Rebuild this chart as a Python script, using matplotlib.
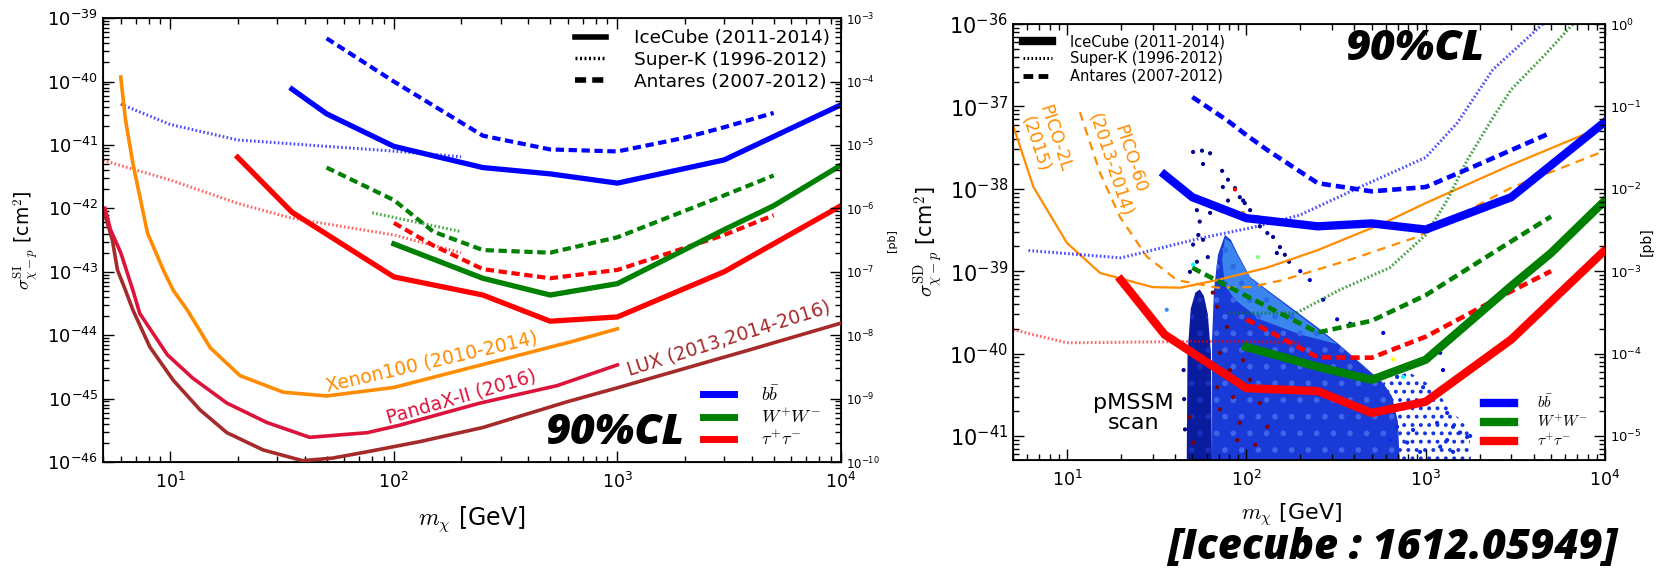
import matplotlib
matplotlib.use("Agg")
import matplotlib.pyplot as plt
from matplotlib.lines import Line2D

plt.rcParams["font.family"] = ["DejaVu Sans"]
plt.rcParams["mathtext.fontset"] = "cm"
plt.rcParams["axes.unicode_minus"] = False
plt.rcParams["xtick.direction"] = "in"
plt.rcParams["ytick.direction"] = "in"
plt.rcParams["hatch.linewidth"] = 1.6

# ---------------- spin-independent limits [cm^2] ----------------
m_ic_bb_si = [35, 50, 100, 250, 500, 1000, 3000, 10000]
s_ic_bb_si = [7.6e-41, 3.1e-41, 9.5e-42, 4.4e-42, 3.5e-42, 2.5e-42, 5.8e-42, 4.3e-41]
m_ic_ww_si = [100, 250, 500, 1000, 3000, 5000, 10000]
s_ic_ww_si = [2.75e-43, 7.9e-44, 4.3e-44, 6.5e-44, 4.6e-43, 1.1e-42, 4.8e-42]
m_ic_tt_si = [20, 35, 100, 250, 500, 1000, 3000, 10000]
s_ic_tt_si = [6.4e-42, 8.7e-43, 8.3e-44, 4.3e-44, 1.66e-44, 1.94e-44, 1.0e-43, 1.1e-42]

m_an_bb_si = [50, 100, 250, 500, 1000, 2000, 3000, 5000]
s_an_bb_si = [4.8e-40, 1.0e-40, 1.4e-41, 8.5e-42, 7.9e-42, 1.3e-41, 1.9e-41, 3.2e-41]
m_an_ww_si = [50, 100, 150, 250, 500, 1000, 3000, 5000]
s_an_ww_si = [4.4e-42, 1.35e-42, 4.3e-43, 2.2e-43, 2.0e-43, 3.5e-43, 1.6e-42, 3.3e-42]
m_an_tt_si = [100, 150, 250, 500, 1000, 3000, 5000]
s_an_tt_si = [5.9e-43, 2.6e-43, 1.1e-43, 7.9e-44, 1.07e-43, 3.8e-43, 7.8e-43]

m_sk_bb_si = [6, 10, 20, 50, 100, 200]
s_sk_bb_si = [4.4e-41, 2.1e-41, 1.2e-41, 9.5e-42, 8.0e-42, 6.5e-42]
m_sk_ww_si = [80, 100, 200]
s_sk_ww_si = [8.5e-43, 7.2e-43, 4.3e-43]
m_sk_tt_si = [5, 10, 20, 35, 100, 200]
s_sk_tt_si = [5.7e-42, 2.8e-42, 1.2e-42, 7.0e-43, 3.8e-43, 2.0e-43]

m_xenon = [6.0, 6.3, 6.8, 7.9, 9.3, 10.3, 11.9, 15.1, 20.5, 32, 50, 100, 614, 1000]
s_xenon = [1.18e-40, 2.5e-41, 5.1e-42, 4.1e-43, 1.07e-43, 5.1e-44, 2.5e-44, 6.3e-45,
           2.3e-45, 1.26e-45, 1.1e-45, 1.5e-45, 7.8e-45, 1.26e-44]
m_pandax = [5.1, 5.4, 6.0, 6.8, 7.3, 9.7, 12.6, 17.9, 27, 42, 76, 106, 243, 537, 1000]
s_pandax = [1.0e-42, 4.6e-43, 2.0e-43, 5.1e-44, 2.2e-44, 4.9e-45, 2.1e-45, 8.5e-46,
            4.2e-46, 2.45e-46, 2.9e-46, 3.8e-46, 8.5e-46, 1.6e-45, 3.4e-45]
m_lux = [5.0, 5.5, 5.8, 6.3, 6.8, 8.1, 10.3, 13.6, 17.9, 26, 39, 53, 76, 131, 250, 595,
         1000, 3920, 10000]
s_lux = [1.0e-42, 3.2e-43, 1.07e-43, 5.1e-44, 2.5e-44, 6.5e-45, 1.95e-45, 6.6e-46, 2.9e-46,
         1.55e-46, 1.05e-46, 1.15e-46, 1.45e-46, 2.1e-46, 3.5e-46, 8.9e-46, 1.48e-45,
         5.9e-45, 1.55e-44]

# ---------------- spin-dependent limits [cm^2] ----------------
m_ic_bb_sd = [35, 50, 100, 250, 500, 1000, 3000, 10000]
s_ic_bb_sd = [1.48e-38, 7.9e-39, 4.4e-39, 3.5e-39, 3.8e-39, 3.2e-39, 7.9e-39, 6.5e-38]
m_ic_ww_sd = [100, 250, 500, 1000, 3000, 5000, 10000]
s_ic_ww_sd = [1.2e-40, 6.9e-41, 4.8e-41, 8.4e-41, 6.6e-40, 1.66e-39, 7.2e-39]
m_ic_tt_sd = [20, 35, 100, 250, 500, 1000, 3000, 10000]
s_ic_tt_sd = [7.8e-40, 1.7e-40, 3.8e-41, 3.5e-41, 1.9e-41, 2.6e-41, 1.48e-40, 1.8e-39]

m_an_bb_sd = [50, 78, 100, 131, 250, 500, 1000, 2000, 5000]
s_an_bb_sd = [1.3e-37, 6.8e-38, 4.5e-38, 2.95e-38, 1.17e-38, 9.3e-39, 1.05e-38, 2.0e-38, 4.8e-38]
m_an_ww_sd = [50, 100, 250, 500, 1000, 3000, 5000]
s_an_ww_sd = [1.1e-39, 5.0e-40, 1.8e-40, 2.5e-40, 5.1e-40, 2.3e-39, 4.6e-39]
m_an_tt_sd = [100, 250, 500, 1000, 3000, 5000]
s_an_tt_sd = [2.6e-40, 9.0e-41, 8.9e-41, 1.6e-40, 5.7e-40, 1.0e-39]

m_sk_bb_sd = [6.1, 20, 55, 109, 199, 431, 1000, 1500, 2370, 4500]
s_sk_bb_sd = [1.78e-39, 1.45e-39, 2.5e-39, 3.4e-39, 4.8e-39, 1.05e-38, 2.4e-38, 6.3e-38,
              2.8e-37, 1.0e-36]
m_sk_ww_sd = [80, 190, 330, 630, 1000, 1315, 1700, 2380, 3000, 4750, 6620]
s_sk_ww_sd = [3.1e-40, 3.1e-40, 5.9e-40, 1.1e-39, 2.75e-39, 7.2e-39, 2.2e-38, 7.4e-38,
              1.6e-37, 4.5e-37, 1.0e-36]
m_sk_tt_sd = [5, 10, 50, 100, 200]
s_sk_tt_sd = [1.95e-40, 1.35e-40, 1.4e-40, 1.4e-40, 1.35e-40]

m_pico2l = [5, 6.5, 10, 15.3, 30, 43, 69, 130, 250, 578, 1000, 3000, 8260]
s_pico2l = [5.9e-38, 1.05e-38, 2.2e-39, 9.5e-40, 6.4e-40, 6.3e-40, 7.8e-40, 1.1e-39,
            1.8e-39, 3.8e-39, 6.7e-39, 1.95e-38, 4.9e-38]
m_pico60 = [11.8, 15.3, 19.8, 27.9, 41, 69, 105, 160, 379, 895, 3000, 10000]
s_pico60 = [8.5e-38, 1.55e-38, 4.5e-39, 1.5e-39, 7.8e-40, 6.3e-40, 6.4e-40, 7.8e-40,
            1.38e-39, 2.6e-39, 1.03e-38, 2.9e-38]

# ---------------- pMSSM scan ----------------
# outlines of the populated regions of the scan
funnel_m = [46.5, 47, 49, 52, 55, 58, 61, 63.5, 64.4]
funnel_s = [4e-42, 1e-40, 3.5e-40, 5.5e-40, 6e-40, 5e-40, 3e-40, 1e-40, 4e-42]
core_m = [64.4, 64.4, 66, 69.5, 76, 82, 89, 105, 131, 175, 248, 321, 415, 580, 650, 700, 720]
core_s = [4e-42, 1.46e-40, 5.9e-40, 1.58e-39, 2.75e-39, 2.4e-39, 1.66e-39, 8.5e-40, 5.9e-40,
          3.7e-40, 2.1e-40, 1.35e-40, 8.3e-41, 4.4e-41, 3.0e-41, 1.5e-41, 4e-42]
light_m = [73.3, 76, 82, 89, 105, 131, 175, 248, 321, 200, 119, 86.5, 76]
light_s = [1.38e-39, 2.5e-39, 2.24e-39, 1.58e-39, 8.3e-40, 5.7e-40, 3.55e-40, 2.0e-40,
           1.3e-40, 1.7e-40, 2.6e-40, 4.5e-40, 6.8e-40]
sparse_m = [580, 800, 1100, 1400, 1750, 1800, 720]
sparse_s = [4.4e-41, 6e-41, 4e-41, 2e-41, 1.2e-41, 4e-42, 4e-42]
# isolated model points
pt_m = [50.5, 56.6, 62.8, 57.4, 73.3, 79, 74, 86.5, 92, 79, 98, 105, 115, 53, 55, 62.8, 54,
        50.5, 57.4, 61, 53, 48.5, 131, 141, 154, 164, 173, 148, 119, 96,
        226, 268, 321, 379, 580, 200, 1205, 1250, 931,
        693, 968, 1100, 1318, 1158, 1422, 1556, 1318, 1702, 1205, 1422, 851, 789, 931, 693,
        634, 1770, 45, 45.5, 44.7, 36,
        96, 86.5, 50.5, 116, 658, 748,
        48.5, 50.5, 68.7, 71.3, 84.4, 92, 105, 119, 81, 96, 71.3, 131, 65, 68.7, 78, 89, 112]
pt_s = [2.8e-38, 2.9e-38, 2.7e-38, 2.0e-38, 1.65e-38, 1.29e-38, 1.05e-38, 1.02e-38, 7.9e-39,
        7.2e-39, 6.7e-39, 5.5e-39, 4.5e-39, 5.5e-39, 4.0e-39, 5.1e-39, 2.75e-39, 2.1e-39,
        2.4e-39, 1.48e-39, 1.3e-39, 9.8e-40, 2.9e-39, 2.6e-39, 1.96e-39, 1.58e-39, 1.3e-39,
        1.66e-39, 3.5e-39, 7.2e-39,
        7.8e-40, 4.5e-40, 2.6e-40, 2.3e-40, 1.78e-40, 1.0e-39, 1.02e-40, 6.3e-41, 8.3e-41,
        5.2e-41, 3.9e-41, 2.95e-41, 1.9e-41, 1.44e-41, 1.29e-41, 1.1e-41, 8.9e-42, 9.7e-42,
        7.4e-42, 6.4e-42, 1.18e-41, 8.3e-42, 6.4e-42, 1.29e-41, 8.9e-42, 1.0e-41,
        2.8e-41, 1.2e-41, 6.3e-41, 3.4e-40,
        5.1e-39, 9.8e-39, 1.2e-39, 1.48e-39, 8.5e-41, 5.2e-41,
        1.7e-41, 8.3e-42, 3.9e-41, 2.1e-41, 2.95e-41, 1.44e-41, 4.8e-41, 2.5e-41, 6.3e-41,
        8.3e-41, 1.02e-40, 1.29e-41, 5.5e-40, 3.7e-40, 2.1e-40, 8.9e-42, 7.8e-42]
pt_c = (["#00008b"] * 30 + ["#0000cd"] * 9 + ["#0a2ae6"] * 17 + ["#00008b"] * 3
        + ["#3a8cff"] + ["darkorange", "red", "cyan", "#80ff80", "yellow", "cyan"]
        + ["#800000"] * 17)

BLUE, GREEN, RED = "#0000ff", "#008000", "#ff0000"
ORANGE, CRIMSON, BROWN = "#ff8c00", "#dc143c", "#a52a2a"
DASH = (0, (2.0, 1.1))
DOT = (0, (0.55, 0.75))

fig = plt.figure(figsize=(16.62, 5.72), dpi=100)
axL = fig.add_axes([0.062, 0.1923, 0.444, 0.776])
axR = fig.add_axes([0.6095, 0.1958, 0.3562, 0.7622])


def style_axes(ax, ylim, pb_lim, ytick_size, pb_size):
    ax.set_xscale("log")
    ax.set_yscale("log")
    ax.set_xlim(5, 1e4)
    ax.set_ylim(*ylim)
    ax.tick_params(which="both", top=True, right=False, width=1)
    ax.tick_params(which="major", length=8)
    ax.tick_params(which="minor", length=4)
    ax.tick_params(axis="y", labelsize=ytick_size)
    ax.tick_params(axis="x", labelsize=12.5, pad=7)
    for sp in ax.spines.values():
        sp.set_linewidth(1.3)
    tw = ax.twinx()
    tw.set_yscale("log")
    tw.set_ylim(*pb_lim)
    tw.tick_params(which="both", direction="in", width=1, labelsize=pb_size)
    tw.tick_params(which="major", length=8)
    tw.tick_params(which="minor", length=4)
    return tw


twL = style_axes(axL, (1e-46, 1e-39), (1e-10, 1e-3), 13, 8.5)
twR = style_axes(axR, (5.1e-42, 1e-36), (5.1e-6, 1.0), 15, 9.5)
twL.text(1.069, 0.5, "[pb]", transform=axL.transAxes, rotation=90, fontsize=8,
         va="center", ha="center")
twR.text(1.07, 0.5, "[pb]", transform=axR.transAxes, rotation=90, fontsize=10,
         va="center", ha="center")

# ---------------- left panel: spin independent ----------------
axL.plot(m_lux, s_lux, color=BROWN, lw=2.6, zorder=3)
axL.plot(m_pandax, s_pandax, color=CRIMSON, lw=2.6, zorder=3)
axL.plot(m_xenon, s_xenon, color=ORANGE, lw=2.6, zorder=3)

axL.plot(m_sk_bb_si, s_sk_bb_si, color=BLUE, lw=2.2, ls=DOT, alpha=0.7)
axL.plot(m_sk_ww_si, s_sk_ww_si, color=GREEN, lw=2.2, ls=DOT, alpha=0.7)
axL.plot(m_sk_tt_si, s_sk_tt_si, color=RED, lw=2.2, ls=DOT, alpha=0.6)

axL.plot(m_an_bb_si, s_an_bb_si, color=BLUE, lw=3, ls=DASH)
axL.plot(m_an_ww_si, s_an_ww_si, color=GREEN, lw=3, ls=DASH)
axL.plot(m_an_tt_si, s_an_tt_si, color=RED, lw=3, ls=DASH)

axL.plot(m_ic_bb_si, s_ic_bb_si, color=BLUE, lw=3.8)
axL.plot(m_ic_ww_si, s_ic_ww_si, color=GREEN, lw=3.8)
axL.plot(m_ic_tt_si, s_ic_tt_si, color=RED, lw=3.8)

axL.text(148, 3.8e-45, "Xenon100 (2010-2014)", color=ORANGE, fontsize=13.5, rotation=13,
         ha="center", va="center", rotation_mode="anchor")
axL.text(200, 1.05e-45, "PandaX-II (2016)", color=CRIMSON, fontsize=13.5, rotation=16,
         ha="center", va="center", rotation_mode="anchor")
axL.text(3155, 9.0e-45, "LUX (2013,2014-2016)", color=BROWN, fontsize=13.5, rotation=17.5,
         ha="center", va="center", rotation_mode="anchor")
axL.text(0.694, 0.065, "90%CL", transform=axL.transAxes, fontsize=31, family="Open Sans",
         weight=800, style="italic", ha="center", va="center")

axL.set_xlabel(r"$m_{\chi}$ [GeV]", fontsize=17)
axL.xaxis.set_label_coords(0.5, -0.095)
axL.set_ylabel(r"$\sigma^{\rm SI}_{\chi-p}$ [cm$^2$]", fontsize=13.5)
axL.yaxis.set_label_coords(-0.086, 0.5)

exp_handles_L = [Line2D([], [], color="k", lw=4),
                 Line2D([], [], color="k", lw=2.5, ls=DOT),
                 Line2D([], [], color="k", lw=4, ls=DASH)]
exp_labels = ["IceCube (2011-2014)", "Super-K (1996-2012)", "Antares (2007-2012)"]
legL1 = axL.legend(exp_handles_L, exp_labels, loc="upper right", bbox_to_anchor=(1.0, 1.0),
                   frameon=False, fontsize=13.3, handlelength=1.7, handletextpad=1.5,
                   labelspacing=0.2, borderaxespad=0.2)
axL.add_artist(legL1)
chan_labels = [r"$b\bar{b}$", r"$W^{+}W^{-}$", r"$\tau^{+}\tau^{-}$"]
chan_handles_L = [Line2D([], [], color=c, lw=5) for c in (BLUE, GREEN, RED)]
axL.legend(chan_handles_L, chan_labels, loc="lower right", bbox_to_anchor=(0.99, 0.0),
           frameon=False, fontsize=13, handlelength=1.7, handletextpad=1.5,
           labelspacing=0.2, borderaxespad=0.3)

# ---------------- right panel: spin dependent ----------------
axR.fill(sparse_m, sparse_s, facecolor="none", edgecolor="#1535e0", hatch="..", lw=0,
         zorder=1)
axR.fill(funnel_m, funnel_s, facecolor="#0a1c9e", edgecolor="#1830c0", hatch=".", lw=0,
         zorder=1)
axR.fill(core_m, core_s, facecolor="#1a3ad8", edgecolor="#3f66ea", hatch=".", lw=0,
         zorder=1)
axR.fill(light_m, light_s, facecolor="#3a86ee", edgecolor="#2a6ae6", hatch=".", lw=0,
         zorder=1.1)
axR.scatter(pt_m, pt_s, s=9, c=pt_c, lw=0, zorder=1.2)

axR.plot(m_pico2l, s_pico2l, color=ORANGE, lw=1.6, zorder=3)
axR.plot(m_pico60, s_pico60, color=ORANGE, lw=1.6, ls=(0, (4, 3)), zorder=3)

axR.plot(m_sk_bb_sd, s_sk_bb_sd, color=BLUE, lw=2.2, ls=DOT, alpha=0.7, zorder=3)
axR.plot(m_sk_ww_sd, s_sk_ww_sd, color=GREEN, lw=2.2, ls=DOT, alpha=0.75, zorder=3)
axR.plot(m_sk_tt_sd, s_sk_tt_sd, color=RED, lw=2.2, ls=DOT, alpha=0.6, zorder=3)

axR.plot(m_an_bb_sd, s_an_bb_sd, color=BLUE, lw=3.3, ls=DASH, zorder=3)
axR.plot(m_an_ww_sd, s_an_ww_sd, color=GREEN, lw=3.3, ls=DASH, zorder=3)
axR.plot(m_an_tt_sd, s_an_tt_sd, color=RED, lw=3.3, ls=DASH, zorder=3)

axR.plot(m_ic_bb_sd, s_ic_bb_sd, color=BLUE, lw=6, zorder=4)
axR.plot(m_ic_ww_sd, s_ic_ww_sd, color=GREEN, lw=6, zorder=4)
axR.plot(m_ic_tt_sd, s_ic_tt_sd, color=RED, lw=6, zorder=4)

axR.text(7.5, 3.8e-38, "PICO-2L\n(2015)", color=ORANGE, fontsize=12.5, rotation=-72,
         ha="center", va="center", rotation_mode="anchor", multialignment="center")
axR.text(19.8, 2.1e-38, "PICO-60\n(2013-2014)", color=ORANGE, fontsize=12.5, rotation=-72,
         ha="center", va="center", rotation_mode="anchor", multialignment="center")
axR.text(0.203, 0.108, "pMSSM\nscan", transform=axR.transAxes, fontsize=16,
         ha="center", va="center", multialignment="center", linespacing=1.0)
axR.text(0.679, 0.943, "90%CL", transform=axR.transAxes, fontsize=31, family="Open Sans",
         weight=800, style="italic", ha="center", va="center")

axR.set_xlabel(r"$m_{\chi}$ [GeV]", fontsize=16)
axR.xaxis.set_label_coords(0.47, -0.095)
axR.set_ylabel(r"$\sigma^{\rm SD}_{\chi-p}$ [cm$^2$]", fontsize=15)
axR.yaxis.set_label_coords(-0.115, 0.5)

exp_handles_R = [Line2D([], [], color="k", lw=6),
                 Line2D([], [], color="k", lw=2.2, ls=DOT),
                 Line2D([], [], color="k", lw=3.5, ls=DASH)]
legR1 = axR.legend(exp_handles_R, exp_labels, loc="upper left", bbox_to_anchor=(0.0, 1.0),
                   frameon=False, fontsize=10.5, handlelength=2.0, handletextpad=1.2,
                   labelspacing=0.15, borderaxespad=0.3)
axR.add_artist(legR1)
chan_handles_R = [Line2D([], [], color=c, lw=6) for c in (BLUE, GREEN, RED)]
axR.legend(chan_handles_R, chan_labels, loc="lower right", bbox_to_anchor=(0.99, 0.0),
           frameon=False, fontsize=11, handlelength=2.0, handletextpad=1.5,
           labelspacing=0.2, borderaxespad=0.3)

fig.text(0.838, 0.042, "[Icecube : 1612.05949]", fontsize=30, family="Open Sans",
         weight=800, style="italic", ha="center", va="center")

fig.savefig("out.png", dpi=100)
